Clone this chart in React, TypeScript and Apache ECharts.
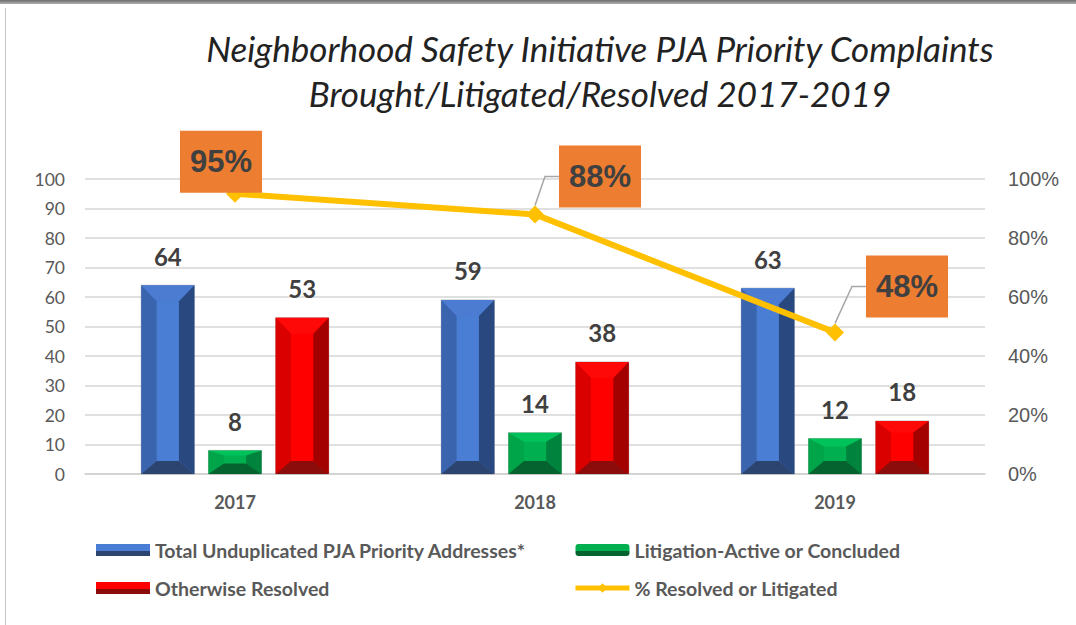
import React, { useEffect, useRef } from "react";
import * as echarts from "echarts";

const years = ["2017", "2018", "2019"];
const totalAddresses = [64, 59, 63];
const litigation = [8, 14, 12];
const otherwiseResolved = [53, 38, 18];
const pctResolved = [0.95, 0.88, 0.48];

const seriesNames = [
  "Total Unduplicated PJA Priority Addresses*",
  "Litigation-Active or Concluded",
  "Otherwise Resolved",
  "% Resolved or Litigated",
];

const titleText = "Neighborhood Safety Initiative PJA Priority Complaints\nBrought/Litigated/Resolved 2017-2019";

type Palette = { face: string; top: string; left: string; right: string; bottom: string };
const bluePal: Palette = { face: "#4A7DD4", top: "#4B7CD2", left: "#3A64AE", right: "#2A4880", bottom: "#2C4570" };
const greenPal: Palette = { face: "#00B050", top: "#00C25A", left: "#00A549", right: "#00843D", bottom: "#05632F" };
const redPal: Palette = { face: "#FF0000", top: "#FF0808", left: "#DA0000", right: "#A30000", bottom: "#8C0B0B" };

// label offsets (layout only)
const pctLabelShift = [
  { dx: -14, dy: -32 },
  { dx: 65, dy: -38 },
  { dx: 72, dy: -46 },
];

const FONT = "Lato, 'Open Sans', sans-serif";

function makeBevel(slot: number, pal: Palette) {
  return (_params: any, api: any) => {
    const ci = api.value(0);
    const v = api.value(1);
    const base = api.coord([ci, 0]);
    const topPt = api.coord([ci, v]);
    const band = api.size([1, 0])[0];
    const bw = band * 0.177;
    const gap = band * 0.047;
    const cx = base[0] + (slot - 1) * (bw + gap);
    const x0 = cx - bw / 2;
    const x1 = cx + bw / 2;
    const y0 = topPt[1];
    const y1 = base[1];
    const h = y1 - y0;
    const bs = Math.min(bw * 0.29, 15.5);
    const bt = Math.min(16, h * 0.22);
    const bb = Math.min(13, h * 0.45);
    return {
      type: "group",
      children: [
        { type: "rect", shape: { x: x0, y: y0, width: bw, height: h }, style: { fill: pal.face, stroke: "rgba(150,150,150,0.55)", lineWidth: 1 } },
        { type: "polygon", shape: { points: [[x0, y0], [x1, y0], [x1 - bs, y0 + bt], [x0 + bs, y0 + bt]] }, style: { fill: pal.top } },
        { type: "polygon", shape: { points: [[x0, y0], [x0 + bs, y0 + bt], [x0 + bs, y1 - bb], [x0, y1]] }, style: { fill: pal.left } },
        { type: "polygon", shape: { points: [[x1, y0], [x1, y1], [x1 - bs, y1 - bb], [x1 - bs, y0 + bt]] }, style: { fill: pal.right } },
        { type: "polygon", shape: { points: [[x0, y1], [x0 + bs, y1 - bb], [x1 - bs, y1 - bb], [x1, y1]] }, style: { fill: pal.bottom } },
        {
          type: "text",
          style: {
            text: String(v),
            x: cx,
            y: y0 - 29,
            align: "center",
            verticalAlign: "middle",
            fontSize: 24,
            fontWeight: "bold",
            fontFamily: FONT,
            fill: "#404040",
          },
        },
      ],
    };
  };
}

function legendGradient(pal: Palette) {
  return new echarts.graphic.LinearGradient(0, 0, 0, 1, [
    { offset: 0, color: pal.face },
    { offset: 0.6, color: pal.face },
    { offset: 0.6, color: pal.bottom },
    { offset: 1, color: pal.bottom },
  ]);
}

function barSeries(name: string, values: number[], slot: number, pal: Palette) {
  return {
    name,
    type: "custom",
    renderItem: makeBevel(slot, pal),
    data: values.map((v, i) => [i, v]),
    encode: { x: 0, y: 1 },
    itemStyle: { color: legendGradient(pal) },
    z: 2,
  };
}

export default function App() {
  const ref = useRef<HTMLDivElement>(null);
  useEffect(() => {
    if (!ref.current) return;
    const chart = echarts.init(ref.current, null, { renderer: "svg" });
    const legendText = { fontFamily: FONT, fontWeight: "bold", fontSize: 19.5, color: "#595959", lineHeight: 20 };
    chart.setOption({
      animation: false,
      backgroundColor: "#ffffff",
      title: {
        text: titleText,
        left: 595,
        top: 20,
        textAlign: "center",
        textStyle: { fontFamily: FONT, fontStyle: "italic", fontWeight: "normal", fontSize: 35, color: "#222222", lineHeight: 45 },
      },
      graphic: [
        {
          type: "rect",
          shape: { x: 0, y: 0, width: 1076, height: 4 },
          style: {
            fill: new echarts.graphic.LinearGradient(0, 0, 0, 1, [
              { offset: 0, color: "#6e6e6e" },
              { offset: 1, color: "#b0b0b0" },
            ]),
          },
        },
        { type: "line", shape: { x1: 5.5, y1: 8, x2: 5.5, y2: 625 }, style: { stroke: "#c4c4c4", lineWidth: 1 } },
      ],
      grid: { left: 85, right: 91, top: 179, bottom: 151 },
      legend: [
        {
          data: [seriesNames[0], seriesNames[2]],
          orient: "vertical",
          left: 96,
          top: 540,
          padding: 0,
          itemWidth: 54,
          itemHeight: 12,
          itemGap: 18,
          icon: "rect",
          selectedMode: false,
          textStyle: legendText,
        },
        {
          data: [seriesNames[1], seriesNames[3]],
          orient: "vertical",
          left: 573,
          top: 540,
          padding: 0,
          itemWidth: 54,
          itemHeight: 12,
          itemGap: 18,
          selectedMode: false,
          lineStyle: { width: 5 },
          textStyle: legendText,
        },
      ],
      xAxis: {
        type: "category",
        data: years,
        axisTick: { show: false },
        axisLine: { lineStyle: { color: "#d0d0d0", width: 1.5 } },
        axisLabel: { fontFamily: FONT, fontWeight: "bold", fontSize: 18, color: "#595959", margin: 19 },
      },
      yAxis: [
        {
          type: "value",
          min: 0,
          max: 100,
          interval: 10,
          axisLine: { show: false },
          axisTick: { show: false },
          splitLine: { lineStyle: { color: "#d6d6d6", width: 1.5 } },
          axisLabel: { fontFamily: FONT, fontSize: 17.5, color: "#595959", margin: 20 },
        },
        {
          type: "value",
          min: 0,
          max: 1,
          interval: 0.2,
          axisLine: { show: false },
          axisTick: { show: false },
          splitLine: { show: false },
          axisLabel: {
            fontFamily: "'Liberation Sans', Arial, sans-serif",
            fontSize: 20,
            color: "#595959",
            margin: 23,
            formatter: (v: number) => Math.round(v * 100) + "%",
          },
        },
      ],
      series: [
        barSeries(seriesNames[0], totalAddresses, 0, bluePal),
        barSeries(seriesNames[1], litigation, 1, greenPal),
        barSeries(seriesNames[2], otherwiseResolved, 2, redPal),
        {
          name: seriesNames[3],
          type: "line",
          yAxisIndex: 1,
          data: pctResolved.map((v, i) => ({ value: v, labelLine: { show: i > 0 } })),
          z: 5,
          symbol: "diamond",
          symbolSize: 18,
          itemStyle: { color: "#FFC000" },
          lineStyle: { color: "#FFC000", width: 6 },
          label: {
            show: true,
            position: "inside",
            formatter: (p: any) => Math.round(p.value * 100) + "%",
            backgroundColor: "#ED7D31",
            color: "#404040",
            fontFamily: "'Liberation Sans', Arial, sans-serif",
            fontWeight: "bold",
            fontSize: 31,
            lineHeight: 36,
            padding: [13, 10],
          },
          labelLine: { show: true, length2: 14, lineStyle: { color: "#a6a6a6", width: 1.5 } },
          labelLayout: (p: any) => pctLabelShift[p.dataIndex],
        },
      ],
    });
    return () => chart.dispose();
  }, []);
  return <div ref={ref} style={{ position: "absolute", left: 0, top: 0, width: 1076, height: 625 }} />;
}
